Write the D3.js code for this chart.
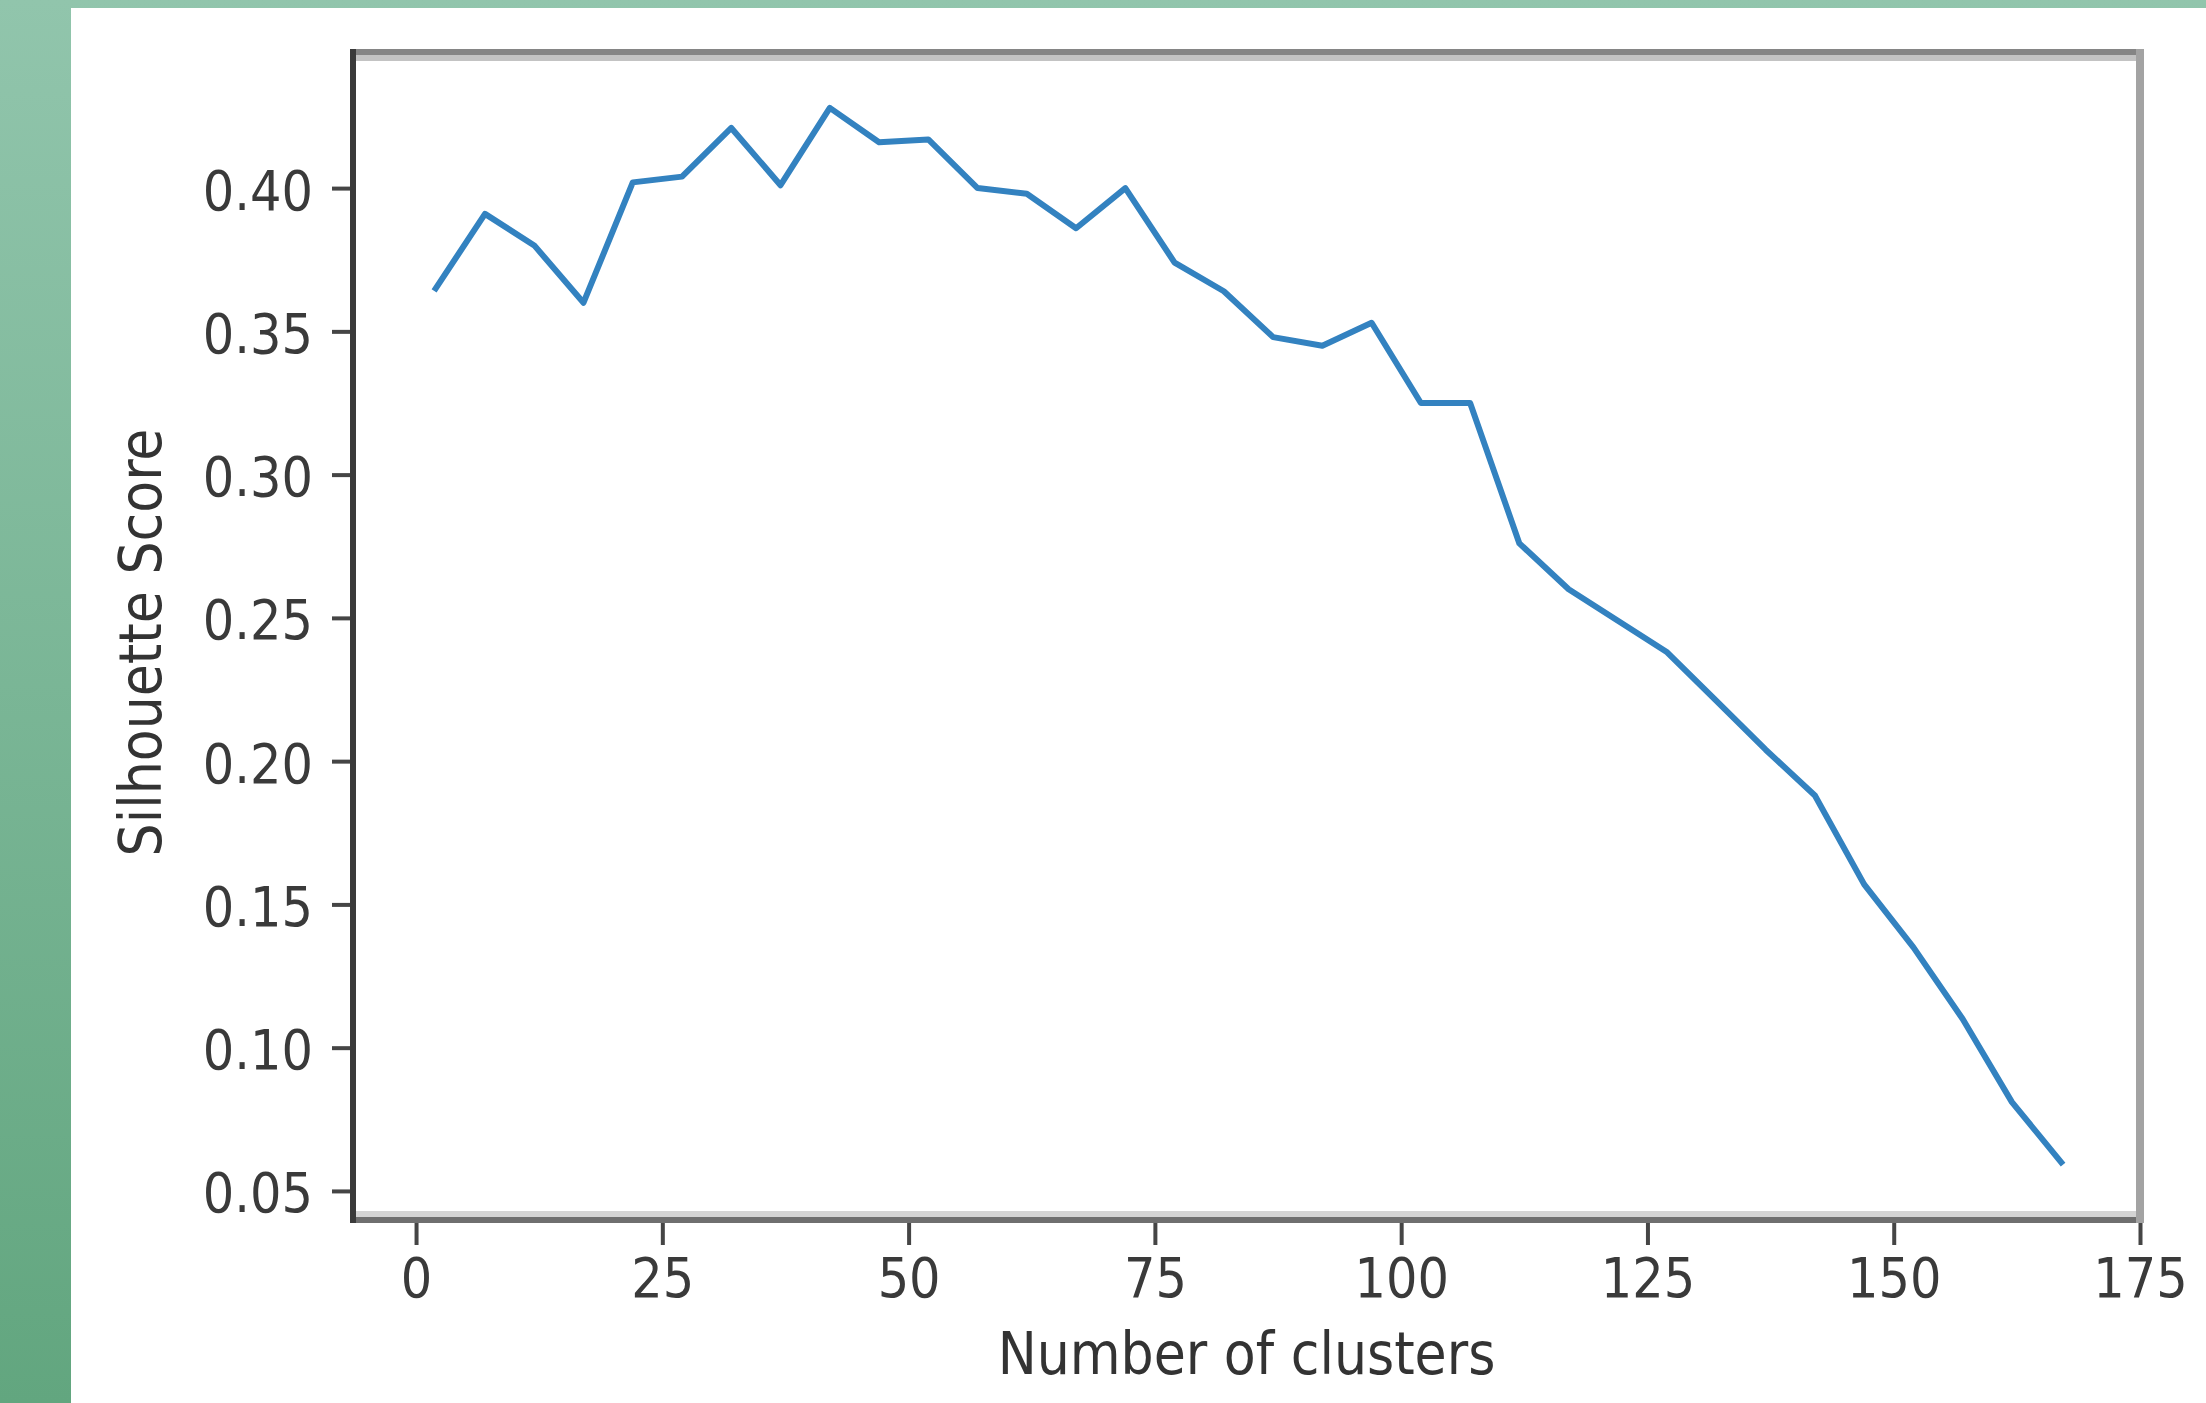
<!DOCTYPE html>
<html>
<head>
<meta charset="utf-8">
<script src="https://cdn.jsdelivr.net/npm/d3@7"></script>
<style>
  html, body { margin: 0; padding: 0; background: #fff; }
  svg text { font-family: 'DejaVu Sans Condensed', 'DejaVu Sans', sans-serif; font-stretch: condensed; }
</style>
</head>
<body>
<div id="chart"></div>
<script>
// number of clusters tried, and the silhouette score for each
var clusters = [2, 7, 12, 17, 22, 27, 32, 37, 42, 47, 52, 57, 62, 67, 72, 77, 82,
                87, 92, 97, 102, 107, 112, 117, 122, 127, 132, 137, 142, 147, 152, 157, 162, 167];
var scores = [0.365, 0.391, 0.380, 0.360, 0.402, 0.404, 0.421, 0.401, 0.428, 0.416, 0.417,
              0.400, 0.398, 0.386, 0.400, 0.374, 0.364, 0.348, 0.345, 0.353, 0.325, 0.325,
              0.276, 0.260, 0.249, 0.238, 0.221, 0.204, 0.188, 0.157, 0.135, 0.110, 0.081, 0.060];
var xTicks = [0, 25, 50, 75, 100, 125, 150, 175];
var yTicks = [0.05, 0.10, 0.15, 0.20, 0.25, 0.30, 0.35, 0.40];

var width = 2206, height = 1403;
var box = {left: 353, right: 2140, top: 52, bottom: 1217};

var svg = d3.select('#chart').append('svg')
    .attr('width', width)
    .attr('height', height);

// green slide background behind the white panel
var grad = svg.append('defs').append('linearGradient')
    .attr('id', 'bg')
    .attr('x1', 0).attr('y1', 0).attr('x2', 0).attr('y2', 1);
grad.append('stop').attr('offset', '0%').attr('stop-color', '#91c5ac');
grad.append('stop').attr('offset', '100%').attr('stop-color', '#62a67f');

svg.append('rect')
    .attr('width', width)
    .attr('height', height)
    .attr('fill', 'url(#bg)');

svg.append('rect')
    .attr('x', 71)
    .attr('y', 8)
    .attr('width', width - 71)
    .attr('height', height - 8)
    .attr('fill', '#ffffff');

var xScale = d3.scaleLinear()
    .domain([-6.4, 175])
    .range([box.left, box.right]);

var yScale = d3.scaleLinear()
    .domain([0.0409, 0.4475])
    .range([box.bottom, box.top]);

// axes
var yAxis = svg.append('g')
    .attr('transform', 'translate(' + box.left + ',0)')
    .call(d3.axisLeft(yScale).tickValues(yTicks).tickSize(21).tickPadding(19)
        .tickFormat(d3.format('.2f')));

var xAxis = svg.append('g')
    .attr('transform', 'translate(0,' + (box.bottom + 3) + ')')
    .call(d3.axisBottom(xScale).tickValues(xTicks).tickSize(25).tickPadding(13));

[xAxis, yAxis].forEach(function(ax) {
    ax.select('.domain').remove();
    ax.selectAll('.tick line')
        .attr('stroke', '#454545')
        .attr('stroke-width', 4);
    ax.selectAll('.tick text')
        .attr('fill', '#3a3a3a')
        .style('font-size', '55px');
});
yAxis.selectAll('.tick text').attr('dy', '0.38em');

// the line
var line = d3.line()
    .x(function(d, i) { return xScale(clusters[i]); })
    .y(function(d) { return yScale(d); });

svg.append('path')
    .datum(scores)
    .attr('d', line)
    .attr('fill', 'none')
    .attr('stroke', '#3382c0')
    .attr('stroke-width', 6)
    .attr('stroke-linejoin', 'round')
    .attr('stroke-linecap', 'square');

// frame, each side has its own shade in the picture
var TopDark = svg.append('line');
var TopLight = svg.append('line');
var BottomLight = svg.append('line');
var BottomDark = svg.append('line');
var RightSide = svg.append('line');
var LeftSide = svg.append('line');

TopDark.attr('x1', box.left).attr('x2', box.right + 4)
    .attr('y1', box.top).attr('y2', box.top)
    .attr('stroke', '#858585').attr('stroke-width', 6);
TopLight.attr('x1', box.left).attr('x2', box.right)
    .attr('y1', box.top + 6).attr('y2', box.top + 6)
    .attr('stroke', '#c3c3c3').attr('stroke-width', 6);
BottomLight.attr('x1', box.left).attr('x2', box.right)
    .attr('y1', box.bottom - 3).attr('y2', box.bottom - 3)
    .attr('stroke', '#d4d4d4').attr('stroke-width', 6);
BottomDark.attr('x1', box.left).attr('x2', box.right + 4)
    .attr('y1', box.bottom + 3).attr('y2', box.bottom + 3)
    .attr('stroke', '#6f6f6f').attr('stroke-width', 6);
RightSide.attr('x1', box.right).attr('x2', box.right)
    .attr('y1', box.top - 3).attr('y2', box.bottom + 6)
    .attr('stroke', '#a3a3a3').attr('stroke-width', 8);
LeftSide.attr('x1', box.left).attr('x2', box.left)
    .attr('y1', box.top - 3).attr('y2', box.bottom + 6)
    .attr('stroke', '#3a3a3a').attr('stroke-width', 6);

// axis titles
svg.append('text')
    .attr('x', (box.left + box.right) / 2)
    .attr('y', 1374)
    .attr('text-anchor', 'middle')
    .attr('fill', '#333333')
    .style('font-size', '58px')
    .text('Number of clusters');

svg.append('text')
    .attr('transform', 'translate(161,' + ((box.top + box.bottom) / 2 + 8) + ') rotate(-90)')
    .attr('text-anchor', 'middle')
    .attr('fill', '#333333')
    .style('font-size', '58px')
    .text('Silhouette Score');
</script>
</body>
</html>
